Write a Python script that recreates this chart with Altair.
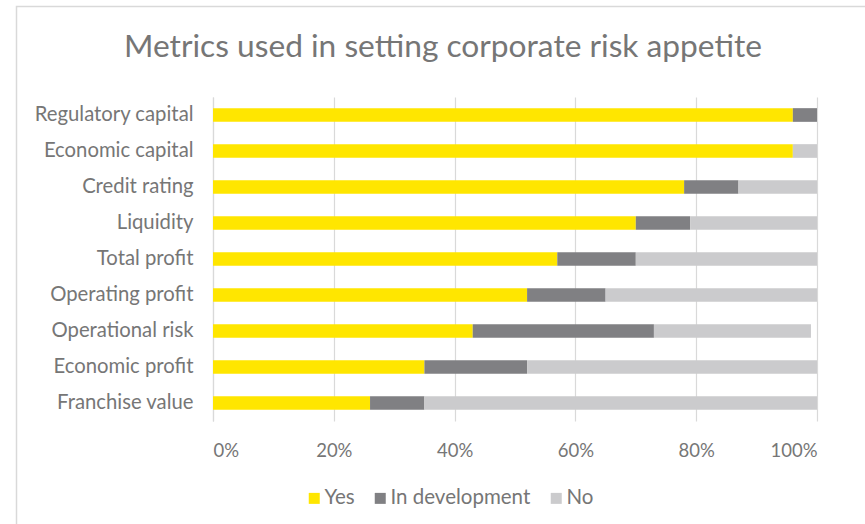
import altair as alt
import pandas as pd

categories = ["Regulatory capital", "Economic capital", "Credit rating", "Liquidity",
              "Total profit", "Operating profit", "Operational risk",
              "Economic profit", "Franchise value"]
yes_vals = [96, 96, 78, 70, 57, 52, 43, 35, 26]
dev_vals = [4, 0, 9, 9, 13, 13, 30, 17, 9]
no_vals = [0, 4, 13, 21, 30, 35, 26, 48, 65]
responses = ["Yes", "In development", "No"]
colors = ["#FFE600", "#808083", "#CBCBCD"]
x_ticks = [0, 0.2, 0.4, 0.6, 0.8, 1.0]

rows = []
for c, a, b, d in zip(categories, yes_vals, dev_vals, no_vals):
    for i, (r, v) in enumerate(zip(responses, [a, b, d])):
        rows.append({"metric": c, "response": r, "value": v / 100, "order": i})
df = pd.DataFrame(rows)

FONT = "Lato"
TXT = "#767676"
GRID = "#d9d9d9"

bars = alt.Chart(df).mark_bar().encode(
    x=alt.X("value:Q", stack="zero",
            scale=alt.Scale(domain=[0, 1], nice=False),
            axis=alt.Axis(format="%", values=x_ticks, grid=True, gridColor=GRID,
                          gridWidth=1.2, domain=False, ticks=False, labelPadding=20,
                          labelFontSize=18.5, labelColor=TXT, labelFont=FONT, title=None)),
    y=alt.Y("metric:N", sort=categories,
            scale=alt.Scale(paddingInner=0.62, paddingOuter=0.31),
            axis=alt.Axis(title=None, ticks=False, domainColor=GRID, domainWidth=1.2,
                          labelPadding=20, labelFontSize=20.3, labelColor=TXT,
                          labelFont=FONT, grid=False)),
    color=alt.Color("response:N", sort=responses,
                    scale=alt.Scale(domain=responses, range=colors),
                    legend=alt.Legend(title=None, orient="none", direction="horizontal",
                                      legendX=91, legendY=391, symbolType="square",
                                      symbolSize=121, symbolStrokeWidth=0,
                                      labelFontSize=20.5, labelFont=FONT, labelColor=TXT,
                                      labelOffset=0, columnPadding=15, padding=0)),
    order=alt.Order("order:Q"),
)

frame = alt.Chart(pd.DataFrame({"f": [0]})).mark_rect(
    fill="white", fillOpacity=0, stroke=GRID, strokeWidth=1.5
).encode(
    x=alt.value(-196.5), x2=alt.value(700), y=alt.value(-90.5), y2=alt.value(500)
)

chart = alt.layer(frame, bars).properties(
    width=604, height=324,
    title=alt.TitleParams("Metrics used in setting corporate risk appetite",
                          fontSize=31.7, font=FONT, fontWeight="normal", color=TXT,
                          anchor="middle", frame="group", dx=-72,
                          baseline="alphabetic", offset=-83),
    padding={"left": 213, "top": 97, "right": 48, "bottom": 103},
    autosize=alt.AutoSizeParams(type="none"),
    background="white",
).configure_view(stroke=None)

chart.save("out.html", embed_options={"renderer": "svg", "actions": False})
